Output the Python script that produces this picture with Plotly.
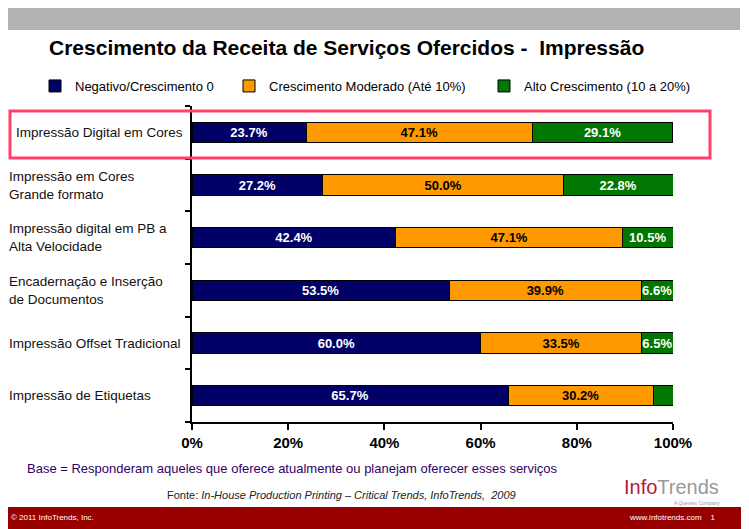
import plotly.graph_objects as go

categories = [
    "Impressão Digital em Cores",
    "Impressão em Cores<br>Grande formato",
    "Impressão digital em PB a<br>Alta Velocidade",
    "Encadernação e Inserção<br>de Documentos",
    "Impressão Offset Tradicional",
    "Impressão de Etiquetas",
]
negativo = [23.7, 27.2, 42.4, 53.5, 60.0, 65.7]
moderado = [47.1, 50.0, 47.1, 39.9, 33.5, 30.2]
alto = [29.1, 22.8, 10.5, 6.6, 6.5, 4.1]
series_names = ["Negativo/Crescimento 0", "Crescimento Moderado (Até 10%)", "Alto Crescimento (10 a 20%)"]
x_ticks = [0, 20, 40, 60, 80, 100]
x_ticklabels = ["0%", "20%", "40%", "60%", "80%", "100%"]

W, H = 749, 529
OFF = 8  # page body margin offset
L, R, T, B = 192 - OFF, 673 - OFF, 106 - OFF, 422 - OFF

def px(x):
    return (x - OFF - L) / (R - L)

def py(y):
    return (B - (y - OFF)) / (B - T)

FONT = "Liberation Sans, Arial, sans-serif"
ypos = list(range(len(categories)))

def labels(vals):
    return [f"{v:.1f}%" if v >= 5 else "" for v in vals]

fig = go.Figure()
colors = ["#000066", "#ff9900", "#007700"]
txtcol = ["white", "black", "white"]
legend_ids = ["legend", "legend2", "legend3"]
legend_x = [35, 229, 484]
for name, vals, c, tc, lg in zip(series_names, [negativo, moderado, alto], colors, txtcol, legend_ids):
    fig.add_trace(go.Bar(
        y=ypos, x=vals, orientation="h", name=name, legend=lg,
        marker=dict(color=c, line=dict(color="black", width=1)),
        text=labels(vals), textposition="inside", insidetextanchor="middle",
        textangle=0, constraintext="none",
        textfont=dict(family=FONT, size=13, color=tc, weight="bold"),
        hoverinfo="skip",
    ))

leg_common = dict(orientation="h", xanchor="left", yanchor="middle",
                  font=dict(size=13, color="black", family=FONT), itemwidth=30,
                  bgcolor="rgba(0,0,0,0)")
fig.update_layout(
    barmode="stack", bargap=0.62,
    width=W, height=H, autosize=False,
    margin=dict(l=L, r=W - R, t=T, b=H - B, pad=0),
    paper_bgcolor="white", plot_bgcolor="white",
    font=dict(family=FONT, color="black"),
    uniformtext=dict(mode="show", minsize=13),
    showlegend=True,
    legend=dict(x=px(legend_x[0]), y=py(86), **leg_common),
    legend2=dict(x=px(legend_x[1]), y=py(86), **leg_common),
    legend3=dict(x=px(legend_x[2]), y=py(86), **leg_common),
)

fig.update_xaxes(
    range=[0, 100], tickvals=x_ticks, ticktext=x_ticklabels,
    showline=True, linecolor="black", linewidth=1.5,
    ticks="outside", ticklen=6, tickcolor="black", tickwidth=1.5,
    tickfont=dict(family=FONT, size=15, color="black", weight="bold"),
    showgrid=False, zeroline=False, fixedrange=True,
)
fig.update_yaxes(
    range=[len(categories) - 0.5, -0.5],
    tickvals=[i - 0.5 for i in range(len(categories) + 1)], ticktext=[""] * (len(categories) + 1),
    showline=True, linecolor="black", linewidth=1.5,
    ticks="outside", ticklen=5, tickcolor="black", tickwidth=1.5,
    showgrid=False, zeroline=False, fixedrange=True,
)

ann = []
for i, cat in enumerate(categories):
    ann.append(dict(x=px(14 if i == 0 else 7), y=i, xref="paper", yref="y", text=cat, showarrow=False,
                    xanchor="left", yanchor="middle", align="left",
                    font=dict(size=13.5, color="#111111", family=FONT)))
ann.append(dict(x=px(346), y=py(48), xref="paper", yref="paper",
                text="<b>Crescimento da Receita de Serviços Ofercidos -  Impressão</b>",
                showarrow=False, xanchor="center", yanchor="middle",
                font=dict(size=21, color="black", family=FONT)))
ann.append(dict(x=px(25), y=py(469), xref="paper", yref="paper",
                text="Base = Responderam aqueles que oferece atualmente ou planejam oferecer esses serviços",
                showarrow=False, xanchor="left", yanchor="middle",
                font=dict(size=13, color="#330066", family=FONT)))
ann.append(dict(x=px(341), y=py(495), xref="paper", yref="paper",
                text="Fonte: <i>In-House Production Printing – Critical Trends, InfoTrends,  2009</i>",
                showarrow=False, xanchor="center", yanchor="middle",
                font=dict(size=11, color="#222222", family=FONT)))
ann.append(dict(x=px(671), y=py(487), xref="paper", yref="paper",
                text="<span style='color:#b0203a'>Info</span><span style='color:#999999'>Trends</span>",
                showarrow=False, xanchor="center", yanchor="middle",
                font=dict(size=20, family=FONT)))
ann.append(dict(x=px(697), y=py(503), xref="paper", yref="paper",
                text="A Questex Company", showarrow=False, xanchor="center", yanchor="middle",
                font=dict(size=5, color="#999999", family=FONT)))
ann.append(dict(x=px(9), y=py(517), xref="paper", yref="paper",
                text="© 2011 InfoTrends, Inc.", showarrow=False, xanchor="left", yanchor="middle",
                font=dict(size=8, color="white", family=FONT)))
ann.append(dict(x=px(717), y=py(517), xref="paper", yref="paper",
                text="www.infotrends.com    1", showarrow=False, xanchor="right", yanchor="middle",
                font=dict(size=8, color="white", family=FONT)))
fig.update_layout(annotations=ann)

shapes = [
    dict(type="rect", xref="paper", yref="paper", x0=px(0), x1=px(740), y0=py(3), y1=py(30),
         fillcolor="#b2b2b2", line=dict(width=0), layer="below"),
    dict(type="rect", xref="paper", yref="paper", x0=px(0), x1=px(760), y0=py(507), y1=py(540),
         fillcolor="#990000", line=dict(width=0), layer="below"),
    dict(type="rect", xref="paper", yref="paper", x0=px(10), x1=px(710), y0=py(111), y1=py(158),
         fillcolor="rgba(0,0,0,0)", line=dict(color="#ff4068", width=3)),
]
fig.update_layout(shapes=shapes)

fig.write_html("out.html")
